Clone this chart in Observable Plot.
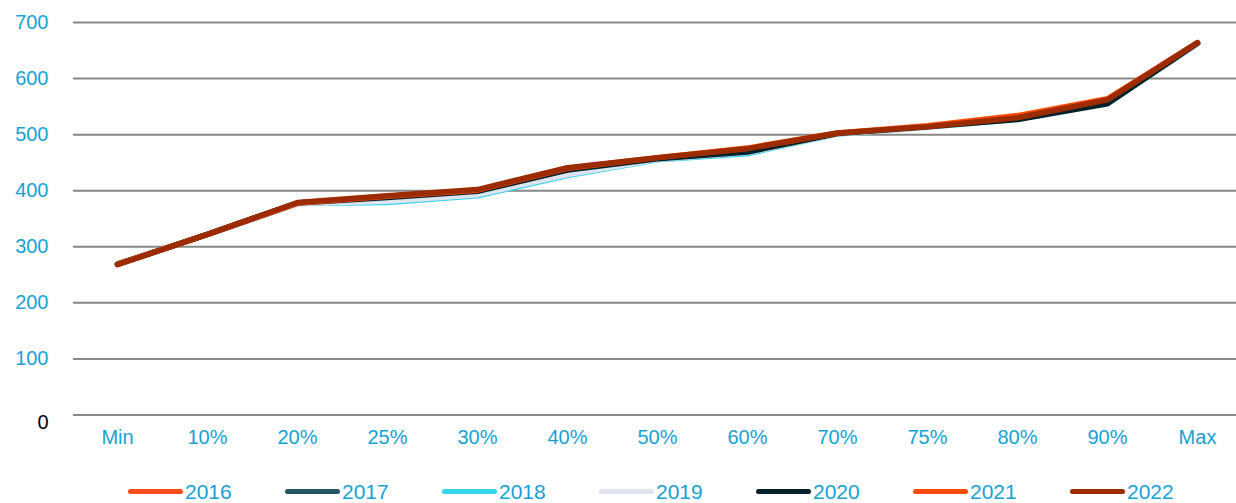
<!DOCTYPE html>
<html>
<head>
<meta charset="utf-8">
<script src="https://cdn.jsdelivr.net/npm/d3@7"></script>
<script src="https://cdn.jsdelivr.net/npm/@observablehq/plot@0.6"></script>
<style>
  html, body { margin: 0; padding: 0; background: #fff; }
  body { width: 1236px; height: 503px; overflow: hidden; font-family: "Liberation Sans", Arial, sans-serif; }
  #legend { position: relative; height: 33px; }
  .item { position: absolute; top: 5px; display: flex; align-items: center; height: 33px; }
  .sw { width: 55px; height: 5px; border-radius: 3px; margin-right: 2px; }
  .lab { font-size: 21px; color: #16a2d3; }
</style>
</head>
<body>
<div id="chart"></div>
<div id="legend"></div>
<script>
const categories = ["Min","10%","20%","25%","30%","40%","50%","60%","70%","75%","80%","90%","Max"];
const years = ["2016","2017","2018","2019","2020","2021","2022"];
const colors = ["#ff4e1a","#235664","#35d5ee","#dfe3ee","#00232b","#ff4b00","#9c2b00"];
const v2016 = [269,322,378,389,400,438,458,474,502,514,530,561,663];
const v2017 = [269,322,378,388,399,436,457,472,502,514,529,558,663];
const v2018 = [269,322,377,379,391,427,455,466,501,513,528,556,662];
const v2019 = [269,322,377,381,393,429,456,468,501,513,528,557,662];
const v2020 = [269,322,378,388,399,437,457,469,502,514,527,555,663];
const v2021 = [269,322,378,390,401,440,459,476,503,516,534,564,664];
const v2022 = [268,322,379,391,402,441,459,475,503,514,530,562,664];
const yTicks = [100,200,300,400,500,600,700];

const series = [v2016,v2017,v2018,v2019,v2020,v2021,v2022];
const data = [];
years.forEach((yr, i) => series[i].forEach((v, j) => data.push({year: yr, cat: categories[j], value: v})));

const blue = "#16a2d3";
const chart = Plot.plot({
  width: 1236,
  height: 470,
  marginLeft: 73,
  marginRight: 0,
  marginTop: 22,
  marginBottom: 55.5,
  style: {fontFamily: "Liberation Sans, Arial, sans-serif", fontSize: "20px", background: "#fff"},
  x: {type: "point", domain: categories, range: [112, 1201], padding: 0},
  y: {domain: [0, 700]},
  color: {domain: years, range: colors},
  marks: [
    Plot.ruleY([0, ...yTicks], {stroke: "#888", strokeWidth: 2}),
    Plot.axisY(yTicks, {tickSize: 0, tickPadding: 25, fill: blue, label: null, fontSize: 20}),
    Plot.axisY([0], {tickSize: 0, tickPadding: 25, fill: "#000", label: null, dy: 8, fontSize: 20}),
    Plot.axisX({tickSize: 0, tickPadding: 15, fill: blue, label: null, fontSize: 20}),
    Plot.line(data, {x: "cat", y: "value", z: "year", stroke: "year", strokeWidth: 5.5, strokeLinecap: "round", strokeLinejoin: "round"})
  ]
});
document.getElementById("chart").appendChild(chart);

const legend = document.getElementById("legend");
years.forEach((yr, i) => {
  const it = document.createElement("div");
  it.className = "item";
  it.style.left = (128 + i * 157) + "px";
  const sw = document.createElement("div");
  sw.className = "sw";
  sw.style.background = colors[i];
  const lab = document.createElement("span");
  lab.className = "lab";
  lab.textContent = yr;
  it.appendChild(sw); it.appendChild(lab);
  legend.appendChild(it);
});
</script>
</body>
</html>
